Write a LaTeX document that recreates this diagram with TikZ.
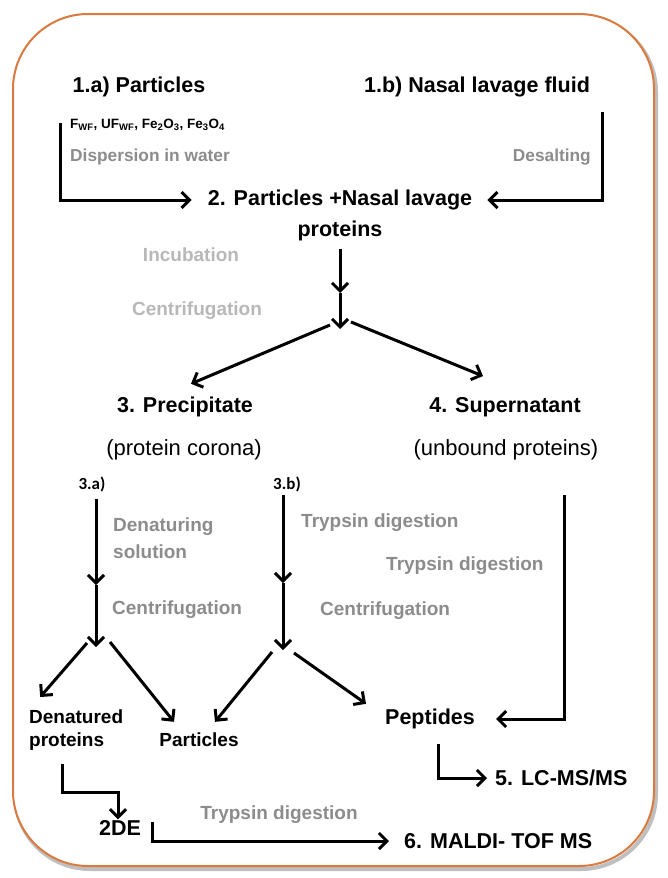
\documentclass[tikz,border=0pt]{standalone}
\usepackage{fontspec}
\setmainfont{Liberation Sans}
\newfontfamily\carlitofont{Carlito}
\usepackage{xcolor}
\usetikzlibrary{arrows.meta,calc}
\definecolor{rimorange}{RGB}{218,122,62}
\definecolor{stepgray}{RGB}{140,140,140}
\definecolor{palegray}{RGB}{184,184,184}

\begin{document}
\begin{tikzpicture}[x=1pt, y=-1pt, every node/.style={inner sep=1pt},
  boldtxt/.style={font=\bfseries\fontsize{21.5}{31}\selectfont},
  minortxt/.style={font=\bfseries\fontsize{19}{23}\selectfont},
  plaintxt/.style={font=\fontsize{22}{26}\selectfont},
  steptxt/.style={font=\bfseries\fontsize{19}{27}\selectfont, text=stepgray},
  paletxt/.style={font=\bfseries\fontsize{19}{27}\selectfont, text=palegray},
  smalltxt/.style={font=\bfseries\fontsize{17.3}{20}\selectfont, text=stepgray},
  branchtxt/.style={font=\carlitofont\bfseries\fontsize{17}{20}\selectfont},
  flow/.style={line width=3pt, -{Straight Barb[length=8pt,width=16pt]}}]
\useasboundingbox (0,0) rectangle (668,878);
\fill[white] (0,0) rectangle (668,878);
% frame
\draw[black!25, line width=4pt, rounded corners=75pt] (15,17) rectangle (656,869);
\draw[rimorange, line width=2pt, fill=white, rounded corners=75pt] (13,14) rectangle (654,866);

% Step 1
\node[boldtxt] (part) at (139,87) {1.a) Particles};
\node[boldtxt] (nlf) at (477,87) {1.b) Nasal lavage fluid};
\node[font=\bfseries\fontsize{13.5}{16}\selectfont, anchor=west] (kinds) at (69,125)
  {F\textsubscript{WF}, UF\textsubscript{WF}, Fe\textsubscript{2}O\textsubscript{3}, Fe\textsubscript{3}O\textsubscript{4}};
\node[smalltxt, anchor=west] (disp) at (69,157) {Dispersion in water};
\node[smalltxt, anchor=east] (desalt) at (592,157) {Desalting};
\coordinate (partdown) at (60,123);
\coordinate (nlfdown) at (602,112);

% Step 2
\node[boldtxt, align=center, anchor=north] (mix) at (340,189) {2. Particles +Nasal lavage\\proteins};
\draw[flow] (partdown) |- ($(mix.north west)+(-15,11)$);
\draw[flow] (nlfdown) |- ($(mix.north east)+(14,11)$);
\node[paletxt] (incub) at (191,255) {Incubation};
\node[paletxt] (cent1) at (197,311) {Centrifugation};
\coordinate (incend) at (340,293);
\coordinate (cenend) at (340,329);
\draw[flow, shorten <=7pt] (mix) -- (incend);
\draw[flow] (incend) -- (cenend);

% Step 3 and 4
\node[boldtxt] (prec) at (185,407) {3. Precipitate};
\node[boldtxt] (super) at (505,407) {4. Supernatant};
\node[plaintxt] (corona) at (184,450) {(protein corona)};
\node[plaintxt] (unbound) at (506,450) {(unbound proteins)};
\draw[flow] ($(cenend)+(-10,-4)$) -- ($(prec.north)+(6,-12)$);
\draw[flow] ($(cenend)+(11,-7)$) -- ($(super.north)+(-22,-20)$);

% 3.a
\node[branchtxt] (pa) at (92,484) {3.a)};
\node[steptxt, align=left, anchor=north west] (denat) at (112,517) {Denaturing\\solution};
\node[steptxt, anchor=west] (cent2) at (111,610) {Centrifugation};
\coordinate (pamid) at (96,585);
\coordinate (paend) at (96,647);
\draw[flow] ($(pa.south)+(4,6)$) -- (pamid);
\draw[flow] (pamid) -- (paend);

% 3.b
\node[branchtxt] (pb) at (287,484) {3.b)};
\node[steptxt, anchor=west] (tryp1) at (300,523) {Trypsin digestion};
\node[steptxt, anchor=west] (tryp2) at (385,566) {Trypsin digestion};
\node[steptxt, anchor=west] (cent3) at (319,611) {Centrifugation};
\coordinate (pbmid) at (283,583);
\coordinate (pbend) at (283,650);
\draw[flow] ($(pb.south)+(-4,2)$) -- (pbmid);
\draw[flow] (pbmid) -- (pbend);

% products
\node[minortxt, align=left, anchor=north west] (denprot) at (28,709) {Denatured\\proteins};
\node[minortxt] (partb) at (199,740) {Particles};
\node[boldtxt] (pept) at (430,719) {Peptides};
\draw[flow] ($(paend)+(-9,-4)$) -- ($(denprot.north)+(-36,-12)$);
\draw[flow] ($(paend)+(14,-5)$) -- ($(partb.north)+(-25,-10)$);
\draw[flow] ($(pbend)+(-11,2)$) -- ($(partb.north)+(16,-10)$);
\draw[flow] ($(pbend)+(11,3)$) -- ($(pept.north)+(-64,-4)$);
\coordinate (supdown) at (564,495);
\draw[flow] (supdown) |- ($(pept.east)+(20,0)$);

% Step 5 and 6
\node[boldtxt, anchor=west] (lcms) at (494,778) {5. LC-MS/MS};
\node[boldtxt] (tde) at (120,828) {2DE};
\node[steptxt] (tryp3) at (279,815) {Trypsin digestion};
\node[boldtxt, anchor=west] (maldi) at (403,841) {6. MALDI- TOF MS};
\draw[flow] ($(pept.south)+(8,14)$) |- ($(lcms.west)+(-7,0)$);
\draw[flow] ($(denprot.south west)+(34,12)$) -- ++(0,28) -| ($(tde.north)+(-2,0)$);
\draw[flow] ($(tde.east)+(10,-6)$) |- ($(maldi.west)+(-14,0)$);
\end{tikzpicture}
\end{document}
